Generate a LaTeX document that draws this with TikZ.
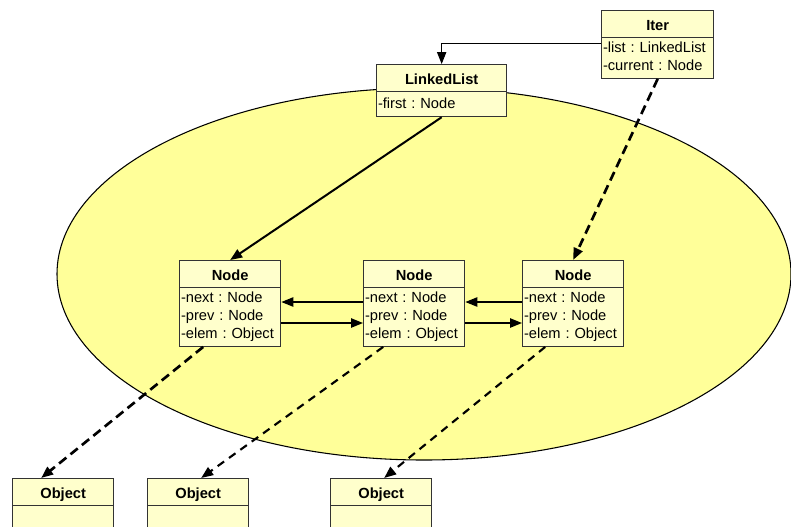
\documentclass[tikz,border=0pt]{standalone}
\usepackage{fontspec}
\setmainfont{Liberation Sans}
\usetikzlibrary{arrows.meta, calc, shapes.multipart}

\definecolor{classfill}{HTML}{FFFFCC}
\definecolor{areafill}{HTML}{FFFF99}

\begin{document}
\begin{tikzpicture}[
    x=0.75pt, y=-0.75pt, >={Triangle[length=9pt, width=7pt]},
    cls/.style={draw=black!80, line width=1pt, fill=classfill,
        rectangle split, rectangle split parts=2, anchor=north west,
        inner xsep=1pt, inner ysep=1.2pt, text width=#1, align=left,
        font=\fontsize{11}{13.5}\selectfont\frenchspacing},
    link/.style={->, line width=1.1pt},
    assoc/.style={->, line width=1.5pt},
    ref/.style={->, line width=2pt, dash pattern=on 7pt off 4pt},
    refthin/.style={->, line width=1.6pt, dash pattern=on 6pt off 4.5pt}
  ]
  \useasboundingbox (0,0) rectangle (791,526);
  \clip (0,0) rectangle (791,526);

  % the list's area
  \draw[fill=areafill, line width=0.8pt] (424,274) ellipse [x radius=367, y radius=186];

  \node[cls=82pt] (iter) at (601,10)
    {\rule[-4pt]{0pt}{16.9pt}\hfill\textbf{Iter}\hfill\null
     \nodepart{two}\strut-list : LinkedList\\-current : Node\strut};
  \node[cls=95.5pt] (list) at (376,64)
    {\rule[-4pt]{0pt}{16.9pt}\hfill\textbf{LinkedList}\hfill\null
     \nodepart{two}\rule[-4.5pt]{0pt}{15.2pt}-first : Node};

  \node[cls=73.75pt] (n1) at (179,260)
    {\rule[-4pt]{0pt}{16.9pt}\hfill\textbf{Node}\hfill\null
     \nodepart{two}\strut-next : Node\\-prev : Node\\-elem : Object\strut};
  \node[cls=73.75pt] (n2) at (363,260)
    {\rule[-4pt]{0pt}{16.9pt}\hfill\textbf{Node}\hfill\null
     \nodepart{two}\strut-next : Node\\-prev : Node\\-elem : Object\strut};
  \node[cls=73.75pt] (n3) at (522,260)
    {\rule[-4pt]{0pt}{16.9pt}\hfill\textbf{Node}\hfill\null
     \nodepart{two}\strut-next : Node\\-prev : Node\\-elem : Object\strut};

  \node[cls=73.75pt] (o1) at (12,478)
    {\rule[-4pt]{0pt}{16.9pt}\hfill\textbf{Object}\hfill\null
     \nodepart{two}\rule{0pt}{30pt}};
  \node[cls=73.75pt] (o2) at (147,478)
    {\rule[-4pt]{0pt}{16.9pt}\hfill\textbf{Object}\hfill\null
     \nodepart{two}\rule{0pt}{30pt}};
  \node[cls=73.75pt] (o3) at (330,478)
    {\rule[-4pt]{0pt}{16.9pt}\hfill\textbf{Object}\hfill\null
     \nodepart{two}\rule{0pt}{30pt}};

  % references
  \draw[->, line width=0.7pt] (iter.west |- 0,43) -| (list.north);
  \draw[assoc] (list.south) -- (n1.north);
  \draw[ref] (iter.south) -- (n3.north);

  \draw[link] (n2.west |- 0,302) -- (n1.east |- 0,302);
  \draw[link] (n1.east |- 0,323) -- (n2.west |- 0,323);
  \draw[link] (n3.west |- 0,302) -- (n2.east |- 0,302);
  \draw[link] (n2.east |- 0,323) -- (n3.west |- 0,323);

  \draw[ref] ($(n1.south)+(-27,0)$) -- ($(o1.north)+(-22,0)$);
  \draw[refthin] ($(n2.south)+(-31,0)$) -- ($(o2.north)+(3,0)$);
  \draw[refthin] ($(n3.south)+(-28,0)$) -- ($(o3.north)+(3,0)$);
\end{tikzpicture}
\end{document}
